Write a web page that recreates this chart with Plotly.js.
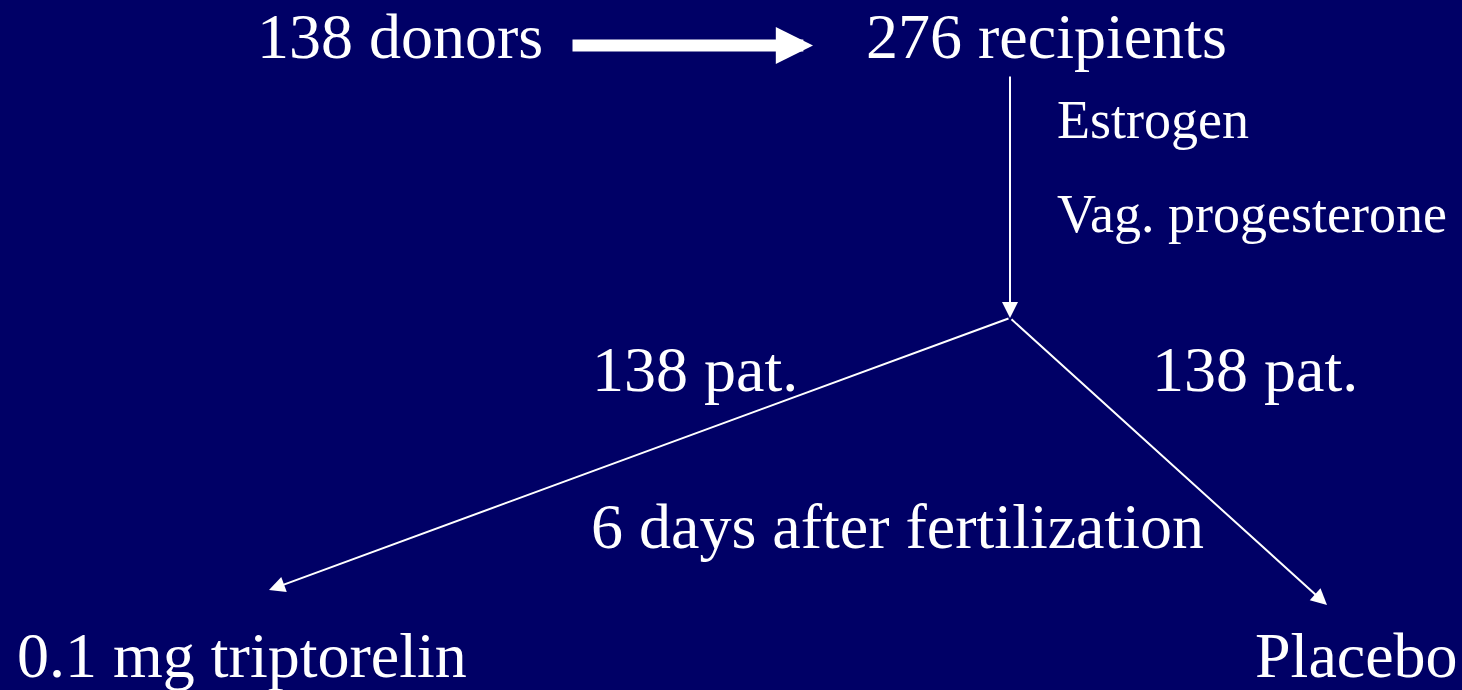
<!DOCTYPE html>
<html>
<head>
<meta charset="utf-8">
<script src="https://cdn.plot.ly/plotly-3.0.1.min.js"></script>
<style>
  html, body { margin: 0; padding: 0; background: #000066; }
  #chart { width: 1462px; height: 690px; }
</style>
</head>
<body>
<div id="chart"></div>
<script>
// study flow: labels and counts
const labels = ['138 donors', '276 recipients', 'Estrogen', 'Vag. progesterone',
                '138 pat.', '138 pat.', '6 days after fertilization',
                '0.1 mg triptorelin', 'Placebo'];
const donors = 138;
const recipients = 276;
const perArm = [138, 138];

// where each label sits (px in a 1462x690 frame, left edge / middle)
const labelX = [255, 864, 1055, 1055, 590, 1150, 589, 15, 1253];
const labelY = [36, 36, 120, 214, 369, 369, 526, 655, 655];
const labelSize = [64, 64, 54, 54, 64, 64, 64, 64, 64];

// arrows: tail -> tip
const arrowFromX = [571, 1010, 1010, 1010];
const arrowFromY = [45.5, 75, 318, 318];
const arrowToX = [813, 1010, 269, 1327];
const arrowToY = [45.5, 318, 590, 605];
const arrowW = [12, 2, 2, 2];
const arrowSize = [0.62, 1.6, 1.6, 1.6];

const FONT = '"Liberation Serif", "Times New Roman", Times, serif';

let annotations = [];
for (let i = 0; i < labels.length; i++) {
    annotations.push({
        x: labelX[i], y: labelY[i], xref: 'x', yref: 'y',
        text: labels[i], showarrow: false,
        xanchor: 'left', yanchor: 'middle',
        font: {family: FONT, size: labelSize[i], color: '#ffffff'}
    });
}
for (let i = 0; i < arrowFromX.length; i++) {
    annotations.push({
        x: arrowToX[i], y: arrowToY[i], xref: 'x', yref: 'y',
        ax: arrowFromX[i], ay: arrowFromY[i], axref: 'x', ayref: 'y',
        text: '', showarrow: true,
        arrowhead: 2, arrowwidth: arrowW[i], arrowsize: arrowSize[i],
        arrowcolor: '#ffffff', standoff: 0, startstandoff: 0
    });
}

const layout = {
    width: 1462, height: 690,
    margin: {l: 0, r: 0, t: 0, b: 0},
    paper_bgcolor: '#000066',
    plot_bgcolor: '#000066',
    showlegend: false,
    xaxis: {range: [0, 1462], visible: false, fixedrange: true},
    yaxis: {range: [690, 0], visible: false, fixedrange: true},
    annotations: annotations
};

Plotly.newPlot('chart', [{x: [], y: [], type: 'scatter'}], layout, {displayModeBar: false, staticPlot: true});
</script>
</body>
</html>
